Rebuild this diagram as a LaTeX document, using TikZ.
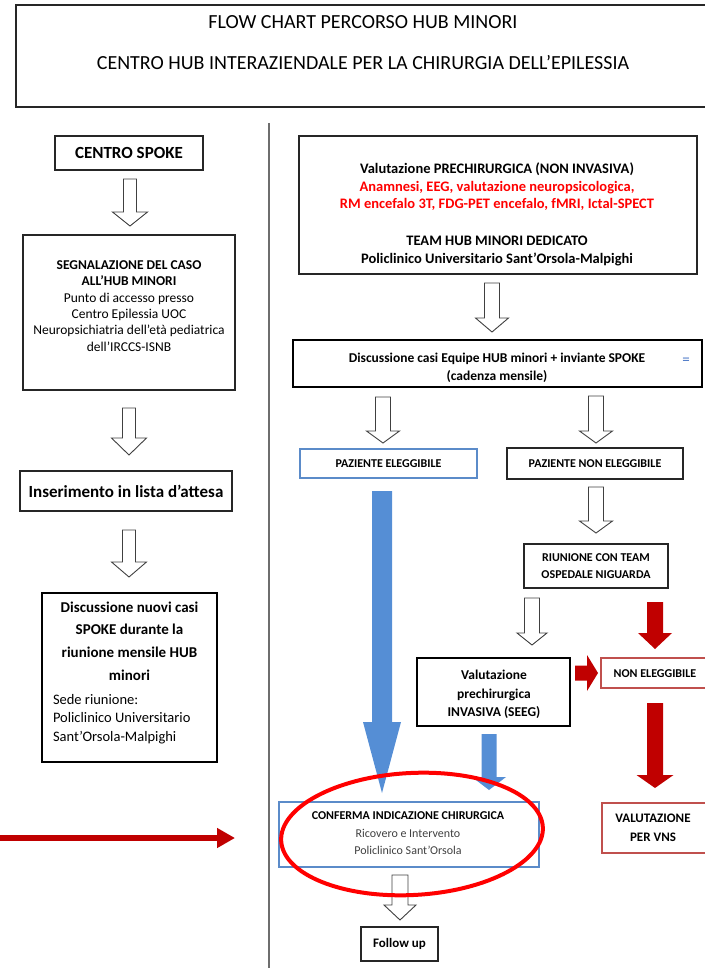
\documentclass[tikz,border=0pt]{standalone}
\usepackage{fontspec}
\setmainfont{Carlito}
\usetikzlibrary{arrows.meta,calc}

\definecolor{bluefill}{RGB}{85,142,213}
\definecolor{blueline}{RGB}{91,139,201}
\definecolor{darkred}{RGB}{192,0,0}
\definecolor{redline}{RGB}{192,80,77}
\definecolor{outline}{RGB}{64,64,64}
\definecolor{textgray}{RGB}{64,64,64}
\definecolor{eqblue}{RGB}{68,114,196}
\definecolor{rulegray}{RGB}{110,110,110}

\newcommand\fsz[2]{\fontsize{#1}{#2}\selectfont}

% rectangle node spanning two corners: style, name, x1, y1, x2, y2, text
\newcommand\boxnode[7]{%
  \node[#1, minimum width={#5pt-#3pt}, minimum height={#6pt-#4pt}] (#2)
    at ({(#3+#5)/2},{(#4+#6)/2}) {#7};}

% block arrow pointing down: style, start, tip, half shaft, half head, head length
\newcommand\blockdown[6]{%
  \path[#1] let \p1=(#2), \p2=(#3) in
    ({\x1-#4pt},\y1) -- ({\x1+#4pt},\y1) -- ({\x1+#4pt},{\y2+#6pt})
    -- ({\x1+#5pt},{\y2+#6pt}) -- (\x1,\y2) -- ({\x1-#5pt},{\y2+#6pt})
    -- ({\x1-#4pt},{\y2+#6pt}) -- cycle;}

% block arrow pointing right: style, start, tip, half shaft, half head, head length
\newcommand\blockright[6]{%
  \path[#1] let \p1=(#2), \p2=(#3) in
    (\x1,{\y1+#4pt}) -- ({\x2-#6pt},{\y1+#4pt}) -- ({\x2-#6pt},{\y1+#5pt})
    -- (\x2,\y1) -- ({\x2-#6pt},{\y1-#5pt}) -- ({\x2-#6pt},{\y1-#4pt})
    -- (\x1,{\y1-#4pt}) -- cycle;}

\tikzset{
  frame/.style={draw=black!85, line width=1.1pt, inner sep=0pt, outer sep=0pt, align=center},
  heavyframe/.style={frame, draw=black, line width=2.2pt},
  bluebox/.style={frame, draw=blueline, line width=1.6pt},
  redbox/.style={frame, draw=redline, line width=1.6pt},
  txt/.style={inner sep=0pt, outer sep=0pt, align=center, text=black},
  hollow/.style={draw=outline, fill=white, line width=0.9pt, line join=miter},
  bluearrow/.style={fill=bluefill},
  redarrow/.style={fill=darkred},
  divider/.style={draw=rulegray, line width=1.6pt},
}

\begin{document}
\begin{tikzpicture}[x=1pt,y=-1pt]
\useasboundingbox (0,0) rectangle (704,968);

% ---------- header ----------
\boxnode{frame}{head}{16}{5}{712}{107}{}
\node[txt, font=\fsz{20}{24}] (head1) at (363,22) {FLOW CHART PERCORSO HUB MINORI};
\node[txt, font=\fsz{20}{24}] (head2) at (363,63) {CENTRO HUB INTERAZIENDALE PER LA CHIRURGIA DELL’EPILESSIA};

% ---------- column divider ----------
\coordinate (divtop) at (269,123);
\coordinate (divbot) at (269,968);
\draw[divider] (divtop) -- (divbot);

% ---------- left column ----------
\boxnode{frame, font=\fsz{17}{20}\bfseries}{spoke}{55}{136}{203}{170}{CENTRO SPOKE}

\boxnode{frame}{seg}{23}{235}{235}{390}{}
\node[txt, font=\fsz{13.5}{16.4}] (segt) at (129,306)
  {\textbf{SEGNALAZIONE DEL CASO}\\ \textbf{ALL’HUB MINORI}\\ Punto di accesso presso\\
   Centro Epilessia UOC\\ Neuropsichiatria dell’età pediatrica\\ dell’IRCCS-ISNB};

\boxnode{frame, font=\fsz{17}{20}\bfseries}{ins}{20}{471}{232}{511}{Inserimento in lista d’attesa}

\boxnode{heavyframe}{disc}{42}{593}{217}{762}{}
\node[txt, font=\fsz{15}{22.7}\bfseries] (disct) at (129.5,641)
  {Discussione nuovi casi\\ SPOKE durante la\\ riunione mensile HUB\\ minori};
\node[txt, align=left, anchor=west, font=\fsz{14.5}{18.5}] (discs) at (53,719)
  {Sede riunione:\\ Policlinico Universitario\\ Sant’Orsola-Malpighi};

\coordinate (a1s) at (130,179); \coordinate (a1e) at (130,226);
\coordinate (a2s) at (129,408); \coordinate (a2e) at (129,455);
\coordinate (a3s) at (129,530); \coordinate (a3e) at (129,577);
\blockdown{hollow}{a1s}{a1e}{6.5}{17.5}{14}
\blockdown{hollow}{a2s}{a2e}{6.5}{17.5}{17}
\blockdown{hollow}{a3s}{a3e}{6.5}{17.5}{15}

% pointer toward the surgical confirmation
\coordinate (ptrs) at (0,838);
\coordinate (ptre) at (235,838);
\draw[darkred, line width=6pt, -{Triangle[length=18pt,width=19pt]}] (ptrs) -- (ptre);

% ---------- right column ----------
\boxnode{frame}{val}{299}{136}{697}{274}{}
\node[txt, font=\fsz{14.5}{17.5}\bfseries] (valt1) at (497,187)
  {Valutazione PRECHIRURGICA (NON INVASIVA)\\
   \textcolor{red}{Anamnesi, EEG, valutazione neuropsicologica,}\\
   \textcolor{red}{RM encefalo 3T, FDG-PET encefalo, fMRI, Ictal-SPECT}};
\node[txt, font=\fsz{14.5}{18}\bfseries] (valt2) at (497,251)
  {TEAM HUB MINORI DEDICATO\\ Policlinico Universitario Sant’Orsola-Malpighi};

\coordinate (b1s) at (492,283); \coordinate (b1e) at (492,332);
\blockdown{hollow}{b1s}{b1e}{7.5}{16.5}{14}

\boxnode{heavyframe}{disc2}{293}{340}{702}{387}{}
\node[txt, font=\fsz{13.5}{18}\bfseries] (disc2t) at (497,368)
  {Discussione casi Equipe HUB minori + inviante SPOKE\\ (cadenza mensile)};
\node[txt, text=eqblue, font=\fsz{15}{16}] (eq) at (686,361) {=};

\coordinate (b2s) at (383,397); \coordinate (b2e) at (383,443);
\coordinate (b3s) at (596,396); \coordinate (b3e) at (596,443);
\blockdown{hollow}{b2s}{b2e}{7.5}{16.5}{12}
\blockdown{hollow}{b3s}{b3e}{7.5}{16.5}{12}

\boxnode{bluebox, font=\fsz{12}{14}\bfseries}{pel}{300}{449}{477}{478}{PAZIENTE ELEGGIBILE}
\boxnode{frame, font=\fsz{12}{14}\bfseries}{pnel}{507}{448}{683}{479}{PAZIENTE NON ELEGGIBILE}

\coordinate (b4s) at (596,487); \coordinate (b4e) at (596,533);
\blockdown{hollow}{b4s}{b4e}{7.5}{16.5}{12}

\boxnode{frame, font=\fsz{12}{17}\bfseries}{riun}{524}{544}{668}{588}{RIUNIONE CON TEAM\\ OSPEDALE NIGUARDA}

\coordinate (b5s) at (532,598); \coordinate (b5e) at (532,645);
\blockdown{hollow}{b5s}{b5e}{7.5}{15}{12}
\coordinate (r1s) at (655,602); \coordinate (r1e) at (655,649);
\blockdown{redarrow}{r1s}{r1e}{8}{17}{16}

\boxnode{heavyframe}{inv}{417}{658}{570}{726}{}
\node[txt, font=\fsz{13.5}{18.5}\bfseries] (invt) at (494,694.5)
  {Valutazione\\ prechirurgica\\ INVASIVA (SEEG)};

\coordinate (r2s) at (575,673); \coordinate (r2e) at (598,673);
\blockright{redarrow}{r2s}{r2e}{7.5}{18}{11}

\boxnode{redbox}{nel}{601}{658}{712}{688}{}
\node[txt, font=\fsz{12}{14}\bfseries] (nelt) at (655,674) {NON ELEGGIBILE};

\coordinate (r3s) at (655,703); \coordinate (r3e) at (655,788);
\blockdown{redarrow}{r3s}{r3e}{8}{18.5}{13}

\boxnode{redbox}{vns}{602}{803}{712}{853}{}
\node[txt, font=\fsz{13}{19}\bfseries] (vnst) at (653,827.5) {VALUTAZIONE\\ PER VNS};

\coordinate (u1s) at (382,491); \coordinate (u1e) at (382,793);
\blockdown{bluearrow}{u1s}{u1e}{10}{19}{71}
\coordinate (u2s) at (489,734); \coordinate (u2e) at (489,790);
\blockdown{bluearrow}{u2s}{u2e}{7.5}{17}{13}

\boxnode{bluebox}{conf}{279}{802}{539}{867}{}
\node[txt, font=\fsz{12}{17.5}] (conft) at (408,833.5)
  {\textbf{CONFERMA INDICAZIONE CHIRURGICA}\\
   \textcolor{textgray}{Ricovero e Intervento}\\
   \textcolor{textgray}{Policlinico Sant’Orsola}};

\coordinate (c1s) at (400,875); \coordinate (c1e) at (400,920);
\blockdown{hollow}{c1s}{c1e}{8}{16}{15}

\boxnode{frame, font=\fsz{13}{15}\bfseries}{fu}{361}{927}{438}{961}{Follow up}

% highlight ring round the confirmation box
\coordinate (ringc) at (412,834);
\draw[red, line width=4pt, rotate around={3:(ringc)}] (ringc) ellipse [x radius=131pt, y radius=61pt];

\end{tikzpicture}
\end{document}
